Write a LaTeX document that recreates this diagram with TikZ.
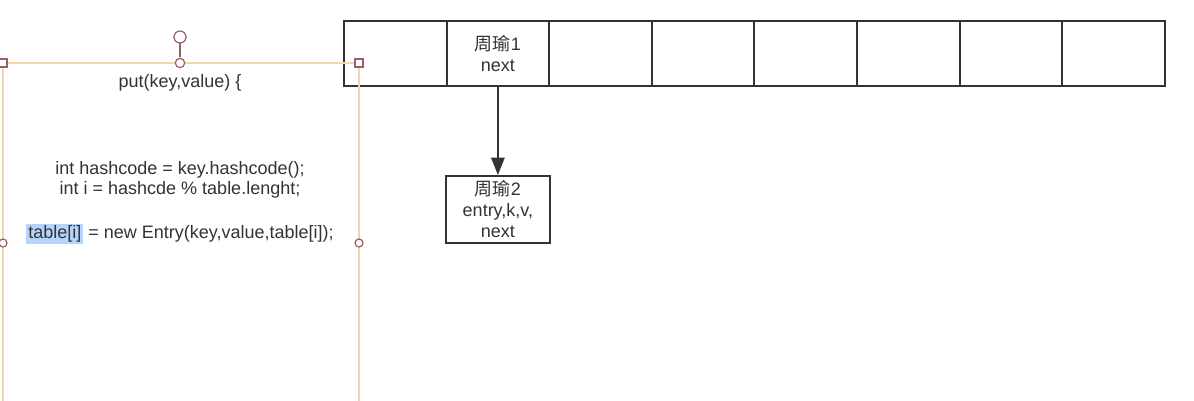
\documentclass[tikz,border=0pt]{standalone}
\usepackage{fontspec}
\setmainfont{Liberation Sans}
\newfontfamily\cjk{Noto Sans CJK SC}
\usepackage{xcolor}
\definecolor{inkgray}{RGB}{51,51,51}
\definecolor{selorange}{RGB}{243,214,168}
\definecolor{handlered}{RGB}{150,95,105}
\definecolor{hilite}{RGB}{180,212,250}
\usetikzlibrary{arrows.meta,positioning}
\tikzset{
  >={Triangle[length=13pt,width=10pt]},
  cell/.style={rectangle,draw=inkgray,line width=1.5pt,minimum width=77pt,minimum height=48.75pt,inner sep=0pt,text=inkgray,align=center,font=\fontsize{13.5}{15.75}\selectfont},
  codetext/.style={text=inkgray,align=center,inner sep=0pt,font=\fontsize{13.5}{14.6}\selectfont},
  link/.style={->,line width=1.5pt,draw=inkgray},
  selframe/.style={draw=selorange,line width=1.8pt},
  handle/.style={draw=handlered,fill=white,line width=0.9pt}
}

\begin{document}
\begin{tikzpicture}[x=0.75pt,y=-0.75pt]
  \useasboundingbox[fill=white] (0,0) rectangle (1194,400);

  % hash table row
  \foreach \i/\txt in {1/{},2/{{\cjk 周瑜}1\\next},3/{},4/{},5/{},6/{},7/{},8/{}}
    \node[cell] (c\i) at ({344+102.6*(\i-0.5)},53.5) {\txt};

  \node[cell,minimum width=78pt,minimum height=50pt,below=66pt of c2] (entry) {{\cjk 周瑜}2\\entry,k,v,\\next};
  \draw[link] (c2.south) -- (entry.north);

  % selected text box
  \draw[selframe] (3,402) -- (3,63) -- (359,63) -- (359,402);
  \draw[handle] (180,57) -- (180,43);
  \draw[handle] (180,37) circle[radius=4.5pt];
  \draw[handle] (180,63) circle[radius=3.5pt];
  \draw[handle] (-1,59) rectangle (7,67);
  \draw[handle] (355,59) rectangle (363,67);
  \draw[handle] (3,243) circle[radius=3pt];
  \draw[handle] (359,243) circle[radius=3pt];

  \node[codetext] (put) at (180,83) {put(key,value) \{};
  \node[codetext] (hash) at (180,180) {int hashcode = key.hashcode();\\int i = hashcde \% table.lenght;};
  \node[codetext] (assign) at (180,234) {{\fboxsep=1.5pt\colorbox{hilite}{table[i]}} = new Entry(key,value,table[i]);};
\end{tikzpicture}
\end{document}
